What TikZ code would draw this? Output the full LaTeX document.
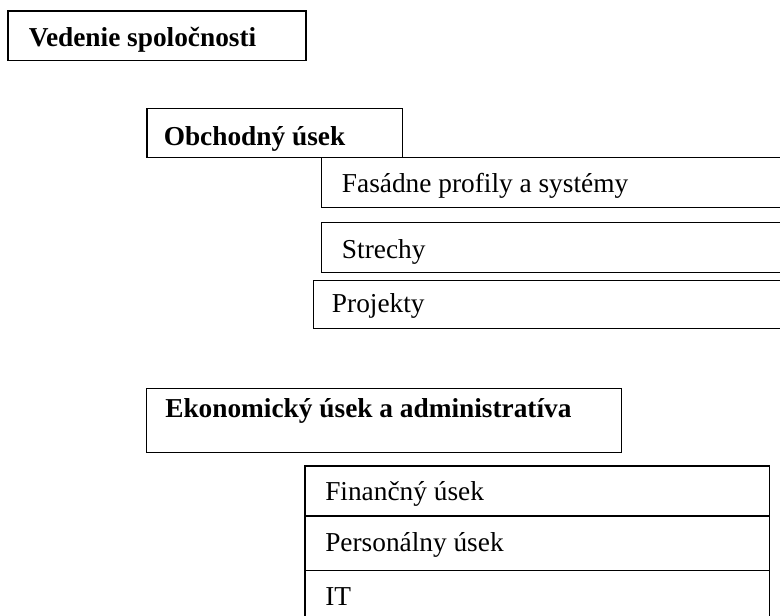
\documentclass[tikz,border=0pt]{standalone}
\usepackage{fontspec}
\setmainfont{Liberation Serif}
\usetikzlibrary{fit}
\begin{document}
\begin{tikzpicture}[x=0.75pt,y=-0.75pt,
  box/.style={draw=black, line width=1pt, inner sep=0pt},
  lbl/.style={inner sep=0pt, anchor=base west, font=\fontsize{20.5}{24}\selectfont},
  blbl/.style={inner sep=0pt, anchor=base west, font=\fontsize{20.5}{24}\selectfont\bfseries}]
\useasboundingbox (0,0) rectangle (780,616);
\clip (0,0) rectangle (780,616);
\fill[white] (0,0) rectangle (780,616);

% top level
\node[box, fit={(8,11) (306,60.3)}] (ved) {};
\node[blbl] (vedt) at (28.5,46.7) {Vedenie spoločnosti};

% Obchodny usek
\node[box, fit={(147,108.3) (402.7,157.3)}] (obch) {};
\node[blbl] (obcht) at (163.5,145.3) {Obchodný úsek};

\node[box, fit={(321.7,157.3) (800,207.3)}] (fas) {};
\node[lbl] (fast) at (341.7,193) {Fasádne profily a systémy};

\node[box, fit={(321.7,222.3) (800,272.3)}] (str) {};
\node[lbl] (strt) at (341.7,258) {Strechy};

\node[box, fit={(313.3,280.7) (800,328.3)}] (proj) {};
\begin{scope}
  \clip (313.3,280.7) rectangle (800,319.5);
  \node[lbl] (projt) at (331.7,312.3) {Projekty};
\end{scope}

% Ekonomicky usek
\node[box, fit={(146.7,388.3) (621.7,452.7)}] (eko) {};
\node[blbl] (ekot) at (165,417.3) {Ekonomický úsek a administratíva};

\node[box, fit={(305,466) (769.3,516)}] (fin) {};
\node[lbl] (fint) at (325,500) {Finančný úsek};

\node[box, fit={(305,516) (769.3,570.7)}] (pers) {};
\node[lbl] (perst) at (325,551.7) {Personálny úsek};

\node[box, fit={(305,570.7) (769.3,640)}] (it) {};
\node[lbl] (itt) at (325,605) {IT};
\end{tikzpicture}
\end{document}
